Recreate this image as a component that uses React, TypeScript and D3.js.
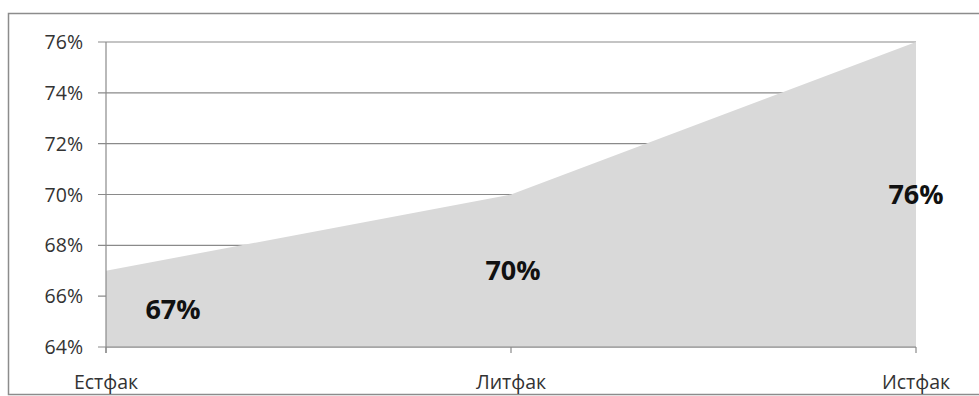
import React from "react";
import * as d3 from "d3";

const categories = ["Естфак", "Литфак", "Истфак"];
const values = [67, 70, 76];
const yTicks = [64, 66, 68, 70, 72, 74, 76];

const W = 979;
const H = 396;
const M = { left: 106, right: 63, top: 42, bottom: 49 };

export default function App() {
  const x = d3
    .scalePoint<string>()
    .domain(categories)
    .range([M.left, W - M.right]);
  const y = d3.scaleLinear().domain([64, 76]).range([H - M.bottom, M.top]);

  const data = categories.map((c, i) => ({ c, v: values[i] }));
  const area = d3
    .area<{ c: string; v: number }>()
    .x((d) => x(d.c) as number)
    .y0(y(64))
    .y1((d) => y(d.v));

  const font = "'Open Sans', 'Liberation Sans', sans-serif";
  const labelX = [x(categories[0])! + 67, x(categories[1])! + 2, x(categories[2])!];

  return (
    <div style={{ position: "fixed", left: 0, top: 0 }}>
      <svg width={W} height={H} style={{ display: "block", background: "#fff" }}>
        <rect x={8.5} y={13.5} width={W} height={381} fill="#fff" stroke="#8c8c8c" strokeWidth={1.5} />
        {yTicks.map((t) => (
          <g key={t}>
            <line x1={M.left - 8} x2={W - M.right} y1={y(t)} y2={y(t)} stroke="#8a8a8a" strokeWidth={1.2} />
            <text
              x={83}
              y={y(t)}
              dy="0.36em"
              textAnchor="end"
              fontSize={19.5}
              fontFamily={font}
              fill="#333"
            >
              {t}%
            </text>
          </g>
        ))}
        <path d={area(data) ?? ""} fill="#d9d9d9" />
        <line x1={M.left} x2={M.left} y1={M.top} y2={y(64) + 6} stroke="#8a8a8a" strokeWidth={1.2} />
        <line x1={M.left} x2={W - M.right} y1={y(64)} y2={y(64)} stroke="#8a8a8a" strokeWidth={1.2} />
        {categories.map((c) => (
          <g key={c}>
            <line x1={x(c)} x2={x(c)} y1={y(64)} y2={y(64) + 6} stroke="#8a8a8a" strokeWidth={1.2} />
            <text x={x(c)} y={389} textAnchor="middle" fontSize={19.5} fontFamily={font} fill="#333">
              {c}
            </text>
          </g>
        ))}
        {data.map((d, i) => (
          <text
            key={d.c}
            x={labelX[i]}
            y={(y(64) + y(d.v)) / 2}
            dy="0.36em"
            textAnchor="middle"
            fontSize={27}
            fontWeight="bold"
            fontFamily={font}
            fill="#111"
          >
            {d.v}%
          </text>
        ))}
      </svg>
    </div>
  );
}
